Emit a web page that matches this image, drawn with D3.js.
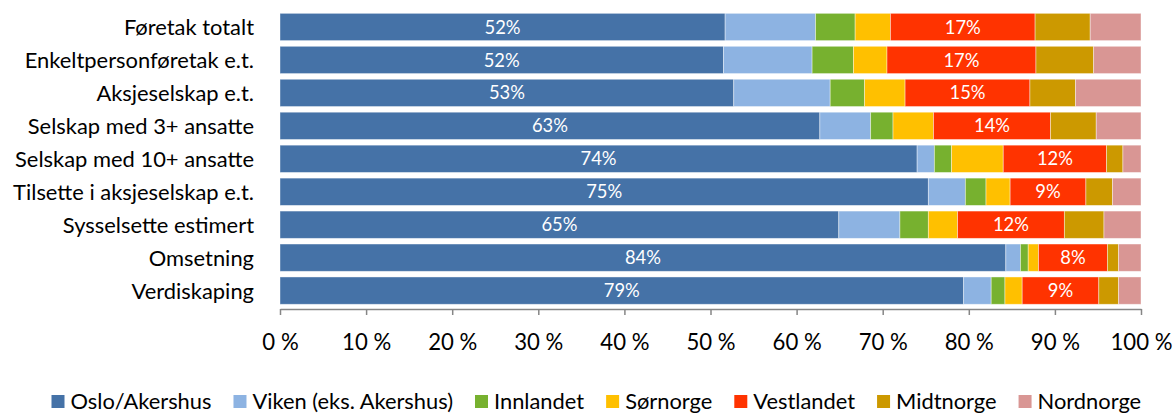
<!DOCTYPE html>
<html>
<head>
<meta charset="utf-8">
<script src="https://cdn.jsdelivr.net/npm/d3@7"></script>
<style>
  html, body { margin: 0; padding: 0; background: #fff; }
  svg { display: block; }
  text { font-family: Lato, "Open Sans", "Noto Sans", sans-serif; }
</style>
</head>
<body>
<svg id="chart" width="1176" height="414"></svg>
<script>
const categories = [
  "Føretak totalt",
  "Enkeltpersonføretak e.t.",
  "Aksjeselskap e.t.",
  "Selskap med 3+ ansatte",
  "Selskap med 10+ ansatte",
  "Tilsette i aksjeselskap e.t.",
  "Sysselsette estimert",
  "Omsetning",
  "Verdiskaping"
];
const seriesNames = ["Oslo/Akershus", "Viken (eks. Akershus)", "Innlandet", "Sørnorge", "Vestlandet", "Midtnorge", "Nordnorge"];
const osloAkershus = [51.7, 51.5, 52.7, 62.7, 74.0, 75.3, 64.9, 84.3, 79.4];
const viken        = [10.5, 10.3, 11.2,  5.9,  2.0,  4.3,  7.1,  1.7,  3.2];
const innlandet    = [ 4.6,  4.8,  4.0,  2.6,  2.0,  2.4,  3.3,  0.9,  1.6];
const sornorge     = [ 4.1,  3.9,  4.7,  4.7,  6.0,  2.8,  3.4,  1.2,  2.0];
const vestlandet   = [16.8, 17.3, 14.5, 13.6, 12.0,  8.8, 12.4,  8.0,  8.9];
const midtnorge    = [ 6.4,  6.7,  5.3,  5.3,  1.9,  3.1,  4.6,  1.3,  2.3];
const nordnorge    = [ 5.9,  5.5,  7.6,  5.2,  2.1,  3.3,  4.3,  2.6,  2.6];
const labelledSeries = ["Oslo/Akershus", "Vestlandet"];
const tickValues = [0, 10, 20, 30, 40, 50, 60, 70, 80, 90, 100];
const tickLabels = ["0 %", "10 %", "20 %", "30 %", "40 %", "50 %", "60 %", "70 %", "80 %", "90 %", "100 %"];
const colors = ["#4572A7", "#8DB3E2", "#77B12F", "#FFC000", "#FF3300", "#CC9900", "#D99694"];

const seriesValues = [osloAkershus, viken, innlandet, sornorge, vestlandet, midtnorge, nordnorge];
const table = categories.map((c, i) => {
  const row = { category: c };
  seriesNames.forEach((s, k) => row[s] = seriesValues[k][i]);
  return row;
});

const svg = d3.select("#chart");

function fitSize(text, targetWidth) {
  const t = svg.append("text").attr("font-size", 100).text(text);
  const w = t.node().getComputedTextLength();
  t.remove();
  return 100 * targetWidth / w;
}
const catFont = fitSize("Tilsette i aksjeselskap e.t.", 241);
const tickFont = fitSize("100 %", 62);
const legendFont = fitSize("Oslo/Akershus", 141);
const labelFont = fitSize("52%", 36);

const x = d3.scaleLinear().domain([0, 100]).range([280, 1141]);
const y = d3.scaleBand().domain(categories).range([10.5, 307.1]).paddingInner(0.172).paddingOuter(0.086);
const color = d3.scaleOrdinal().domain(seriesNames).range(colors);

const stacked = d3.stack().keys(seriesNames)(table);

const layers = svg.append("g").selectAll("g")
  .data(stacked).join("g")
  .attr("fill", d => color(d.key));

layers.selectAll("rect")
  .data(d => d.map(v => Object.assign(v, { key: d.key })))
  .join("rect")
  .attr("x", d => x(d[0]))
  .attr("y", d => y(d.data.category))
  .attr("width", d => x(d[1]) - x(d[0]))
  .attr("height", y.bandwidth())
  .attr("stroke", "#ffffff")
  .attr("stroke-opacity", 0.5)
  .attr("stroke-width", 0.8);

// data labels
svg.append("g").selectAll("text")
  .data(stacked.filter(s => labelledSeries.includes(s.key)).flatMap(s => s.map(v => ({ v, key: s.key }))))
  .join("text")
  .attr("x", d => (x(d.v[0]) + x(d.v[1])) / 2)
  .attr("y", d => y(d.v.data.category) + y.bandwidth() / 2)
  .attr("dy", "0.36em")
  .attr("text-anchor", "middle")
  .attr("fill", "#fff")
  .attr("font-size", labelFont)
  .text(d => Math.round(d.v[1] - d.v[0]) + "%");

// category labels
svg.append("g").selectAll("text")
  .data(categories).join("text")
  .attr("x", 254)
  .attr("y", d => y(d) + y.bandwidth() / 2)
  .attr("dy", "0.36em")
  .attr("text-anchor", "end")
  .attr("fill", "#000")
  .attr("font-size", catFont)
  .text(d => d);

// x axis
const axis = d3.axisBottom(x).tickValues(tickValues)
  .tickFormat((d, i) => tickLabels[i]).tickSize(6).tickSizeOuter(0).tickPadding(20);
const gx = svg.append("g").attr("transform", "translate(0,309)").call(axis);
gx.select(".domain").attr("stroke", "#868686").attr("stroke-width", 1.5);
gx.selectAll(".tick line").attr("stroke", "#868686").attr("stroke-width", 1.5);
gx.selectAll(".tick text").attr("fill", "#000").attr("font-size", tickFont)
  .attr("font-family", 'Lato, "Open Sans", sans-serif').attr("dy", 0).attr("y", 41);

// legend
const legend = svg.append("g");
let lx = 51.5;
seriesNames.forEach((s, k) => {
  legend.append("rect").attr("x", lx).attr("y", 395).attr("width", 13).attr("height", 13).attr("fill", colors[k]);
  const t = legend.append("text").attr("x", lx + 19).attr("y", 408.5)
    .attr("font-size", legendFont).attr("fill", "#000").text(s);
  lx += 19 + t.node().getComputedTextLength() + 22;
});
</script>
</body>
</html>
